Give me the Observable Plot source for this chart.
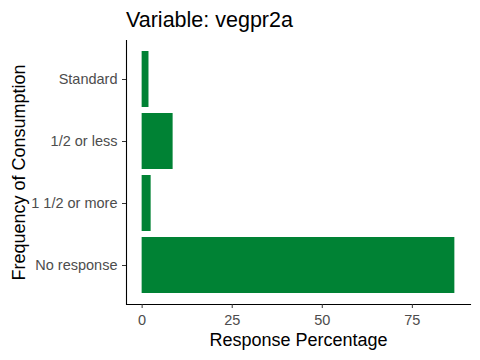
<!DOCTYPE html>
<html><head><meta charset="utf-8">
<script src="https://cdn.jsdelivr.net/npm/d3@7"></script>
<script src="https://cdn.jsdelivr.net/npm/@observablehq/plot@0.6"></script>
<style>
body{margin:0;background:#fff;font-family:"Liberation Sans",Arial,sans-serif;}
#title{height:40px;line-height:40px;font-size:21.5px;padding-left:126px;color:#000;white-space:nowrap;}
#chart svg{display:block;}
</style></head><body>
<div id="title"></div>
<div id="chart"></div>
<script>
const categories = ["Standard", "1/2 or less", "1 1/2 or more", "No response"];
const percentages = [1.9, 8.6, 2.5, 86.8];
const xTicks = [0, 25, 50, 75];
const titleText = "Variable: vegpr2a";
const xLabel = "Response Percentage";
const yLabel = "Frequency of Consumption";

const data = categories.map((c, i) => ({category: c, pct: percentages[i]}));
const maxV = d3.max(percentages);
const xMin = -0.05 * maxV, xMax = 1.05 * maxV;

document.getElementById("title").textContent = titleText;

const plot = Plot.plot({
  width: 480, height: 320,
  marginTop: 0, marginBottom: 56, marginLeft: 126, marginRight: 10,
  style: {fontFamily: "Liberation Sans, Arial, sans-serif", background: "#fff"},
  x: {domain: [xMin, xMax]},
  y: {domain: categories, paddingInner: 0.1, paddingOuter: 0.15},
  marks: [
    Plot.barX(data, {x: "pct", y: "category", fill: "#008234"}),
    Plot.ruleX([xMin], {stroke: "#000", strokeWidth: 1.1}),
    Plot.frame({anchor: "bottom", stroke: "#000", strokeWidth: 1.1}),
    Plot.axisX({ticks: xTicks, tickSize: 4, tickPadding: 6, fontSize: 14.5, stroke: "#333", fill: "#4D4D4D", label: null}),
    Plot.axisY({tickSize: 4, tickPadding: 5, fontSize: 14.5, stroke: "#333", fill: "#4D4D4D", label: null}),
    Plot.text([xLabel], {frameAnchor: "bottom", textAnchor: "middle", dy: 41, fontSize: 18, fill: "#000"}),
    Plot.text([yLabel], {frameAnchor: "left", textAnchor: "middle", dx: -107, rotate: -90, fontSize: 18, fill: "#000"})
  ]
});
document.getElementById("chart").appendChild(plot);
</script>
</body></html>
